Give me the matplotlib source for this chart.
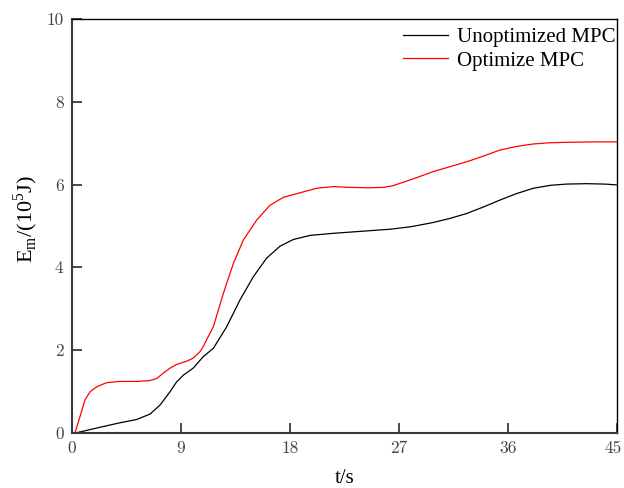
import matplotlib.pyplot as plt
import matplotlib.transforms as mtransforms

# 读图得到的数据点 (t/s, E_m/(10^5 J))
t_unopt = [0, 0.39, 2.59, 3.96, 5.34, 6.44, 7.27, 8.09, 8.64, 9.19, 10.0, 10.84,
           11.67, 12.77, 13.87, 14.97, 16.07, 17.18, 18.27, 19.65, 21.58, 23.0,
           26.3, 28.0, 29.8, 31.2, 32.6, 34.0, 35.3, 36.7, 38.1, 39.5, 40.8,
           42.5, 44.0, 45]
e_unopt = [0, 0.0, 0.15, 0.24, 0.32, 0.45, 0.67, 0.99, 1.23, 1.39, 1.56, 1.84,
           2.04, 2.56, 3.21, 3.77, 4.22, 4.51, 4.67, 4.77, 4.82, 4.85,
           4.92, 4.98, 5.08, 5.18, 5.30, 5.46, 5.62, 5.78, 5.91, 5.98, 6.01,
           6.02, 6.01, 5.99]

t_opt = [0, 0.25, 0.66, 1.07, 1.49, 2.04, 2.86, 3.96, 5.34, 6.44, 6.99, 7.54,
         8.09, 8.64, 9.47, 10.0, 10.57, 10.84, 11.12, 11.67, 12.5, 13.32, 14.15,
         15.25, 16.35, 17.45, 18.83, 20.2, 21.58, 23.0, 24.5, 25.7, 26.5, 27.1,
         28.5, 29.8, 31.2, 32.6, 34.0, 35.3, 36.7, 38.1, 39.5, 40.8, 43.0, 45]
e_opt = [0, 0.0, 0.39, 0.79, 0.99, 1.11, 1.21, 1.24, 1.24, 1.26, 1.31, 1.44,
         1.56, 1.65, 1.73, 1.80, 1.96, 2.08, 2.25, 2.56, 3.37, 4.09, 4.66,
         5.14, 5.50, 5.69, 5.80, 5.91, 5.95, 5.93, 5.92, 5.93, 5.97, 6.03,
         6.17, 6.31, 6.43, 6.55, 6.69, 6.83, 6.92, 6.98, 7.01, 7.02, 7.03, 7.03]

xticks = [0, 9, 18, 27, 36, 45]
yticks = [0, 2, 4, 6, 8, 10]

fig = plt.figure(figsize=(6.24, 4.88), dpi=100)
ax = fig.add_axes([0.1154, 0.1133, 0.8734, 0.8477])

ax.plot(t_unopt, e_unopt, color='black', linewidth=0.9, label='Unoptimized MPC')
ax.plot(t_opt, e_opt, color='red', linewidth=0.9, label='Optimize MPC')

ax.set_xlim(0, 45)
ax.set_ylim(0, 10)
ax.set_xticks(xticks)
ax.set_yticks(yticks)

# 坐标轴样式
for side in ['left', 'bottom']:
    ax.spines[side].set_color('#3a3a3a')
    ax.spines[side].set_linewidth(1.5)
for side in ['top', 'right']:
    ax.spines[side].set_color('black')
    ax.spines[side].set_linewidth(1.0)

ax.tick_params(direction='in', length=7, width=1.3, color='#3a3a3a',
               labelcolor='#444444', labelsize=12.5, pad=6)
for lab in ax.get_xticklabels() + ax.get_yticklabels():
    lab.set_fontfamily('cmr10')

# 最右边的刻度标签稍微左移，避免被图边裁掉
last = ax.get_xticklabels()[-1]
last.set_transform(last.get_transform() +
                   mtransforms.ScaledTranslation(-4 / 100, 0, fig.dpi_scale_trans))

ax.set_xlabel('t/s', fontfamily='Liberation Serif', fontsize=15)
ax.set_ylabel(r'E$_\mathregular{m}$/(10$^\mathregular{5}$J)',
              fontfamily='Liberation Serif', fontsize=16)
ax.xaxis.set_label_coords(0.501, -0.088)
ax.yaxis.set_label_coords(-0.059, 0.517)

leg = ax.legend(loc='upper right', frameon=False, handlelength=2.2,
                handletextpad=0.4, labelspacing=0.2, borderaxespad=0.0,
                bbox_to_anchor=(1.012, 1.0),
                prop={'family': 'Liberation Serif', 'size': 15})

plt.savefig('out.png')
